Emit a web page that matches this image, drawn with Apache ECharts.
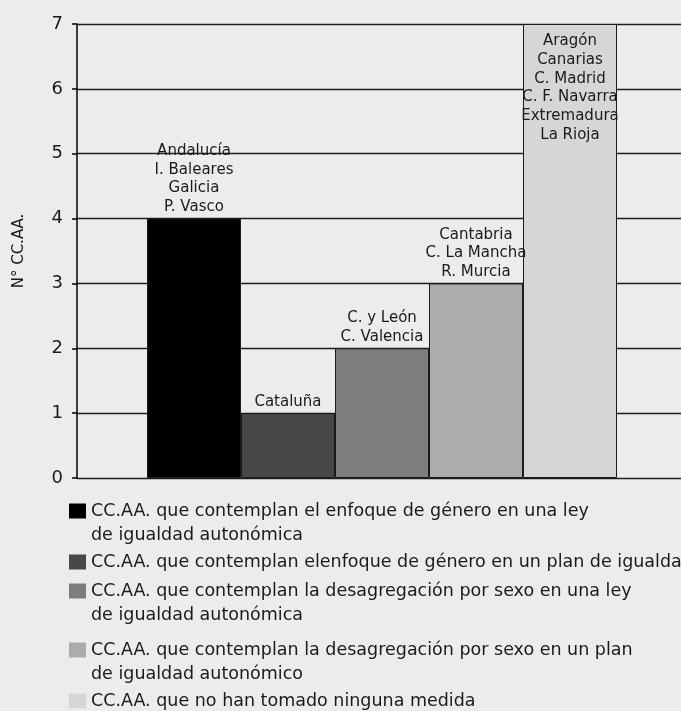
<!DOCTYPE html>
<html>
<head>
<meta charset="utf-8">
<script src="https://cdn.jsdelivr.net/npm/echarts@6/dist/echarts.min.js"></script>
<style>
html,body{margin:0;padding:0;background:#ececec;}
#c{width:681px;height:711px;}
</style>
</head>
<body>
<div id="c"></div>
<script>
var categories = ['ley_genero','plan_genero','ley_sexo','plan_sexo','ninguna'];
var seriesNames = [
  'CC.AA. que contemplan el enfoque de género en una ley\nde igualdad autonómica',
  'CC.AA. que contemplan elenfoque de género en un plan de igualdad',
  'CC.AA. que contemplan la desagregación por sexo en una ley\nde igualdad autonómica',
  'CC.AA. que contemplan la desagregación por sexo en un plan\nde igualdad autonómico',
  'CC.AA. que no han tomado ninguna medida'
];
var values = [4, 1, 2, 3, 7];
var regions = [
  ['Andalucía','I. Baleares','Galicia','P. Vasco'],
  ['Cataluña'],
  ['C. y León','C. Valencia'],
  ['Cantabria','C. La Mancha','R. Murcia'],
  ['Aragón','Canarias','C. Madrid','C. F. Navarra','Extremadura','La Rioja']
];
var yTicks = [0,1,2,3,4,5,6,7];

var colors = ['#000000','#484848','#7d7d7d','#acacac','#d6d6d6'];
var legendTops = [499, 550, 579, 638, 689];
var FONT = 'DejaVu Sans';
var TWO_LINE_ICON = 'path://M0,0L0.001,0M0,4.5H17V19.5H0ZM0,48L0.001,48';

var series = [];
var legends = [];
for (var i = 0; i < values.length; i++) {
  var data = categories.map(function(c, j){ return j === i ? values[i] : '-'; });
  var inside = i === values.length - 1;
  series.push({
    name: seriesNames[i],
    type: 'bar',
    stack: 'all',
    xAxisIndex: 1,
    yAxisIndex: 1,
    barCategoryGap: 0,
    data: data,
    itemStyle: {color: colors[i], borderColor: '#1a1a1a', borderWidth: 1},
    label: {
      show: true,
      position: inside ? 'insideTop' : 'top',
      distance: inside ? 8 : 2,
      color: '#1a1a1a',
      fontFamily: FONT,
      fontSize: 15,
      lineHeight: 18.7,
      formatter: (function(k){ return function(){ return regions[k].join('\n'); }; })(i)
    },
    emphasis: {disabled: true}
  });
  var twoLines = seriesNames[i].indexOf('\n') >= 0;
  legends.push({
    data: [seriesNames[i]],
    left: 69,
    top: legendTops[i],
    padding: 0,
    orient: 'vertical',
    icon: twoLines ? TWO_LINE_ICON : 'rect',
    itemWidth: 17,
    itemHeight: twoLines ? 48 : 15,
    itemGap: 0,
    selectedMode: false,
    itemStyle: {borderWidth: 0},
    textStyle: {
      fontFamily: FONT,
      fontSize: 17.5,
      color: '#1a1a1a',
      lineHeight: 24
    }
  });
}

var chart = echarts.init(document.getElementById('c'), null, {renderer: 'canvas'});
chart.setOption({
  backgroundColor: '#ececec',
  animation: false,
  legend: legends,
  grid: [
    {left: 77, right: 0, top: 24, bottom: 233},
    {left: 147, width: 470, top: 24, bottom: 233}
  ],
  xAxis: [
    {type: 'value', gridIndex: 0, min: 0, max: 1, show: false},
    {type: 'category', gridIndex: 1, data: categories, show: false}
  ],
  yAxis: [
    {
      type: 'value', gridIndex: 0, min: 0, max: 7, interval: 1,
      name: 'N° CC.AA.', nameLocation: 'middle', nameGap: 50, nameRotate: 90,
      nameTextStyle: {fontFamily: FONT, fontSize: 15, color: '#1a1a1a'},
      axisLine: {show: true, lineStyle: {color: '#000', width: 1.5}},
      axisTick: {show: true, length: 5, lineStyle: {color: '#000', width: 1.5}},
      axisLabel: {
        fontFamily: FONT, fontSize: 18, color: '#1a1a1a', margin: 14,
        formatter: function(v){ return yTicks.indexOf(v) >= 0 ? String(v) : ''; }
      },
      splitLine: {show: true, lineStyle: {color: '#1e1e1e', width: 1.3}}
    },
    {type: 'value', gridIndex: 1, min: 0, max: 7, interval: 1, show: false, splitLine: {show: false}}
  ],
  series: series
});
</script>
</body>
</html>
